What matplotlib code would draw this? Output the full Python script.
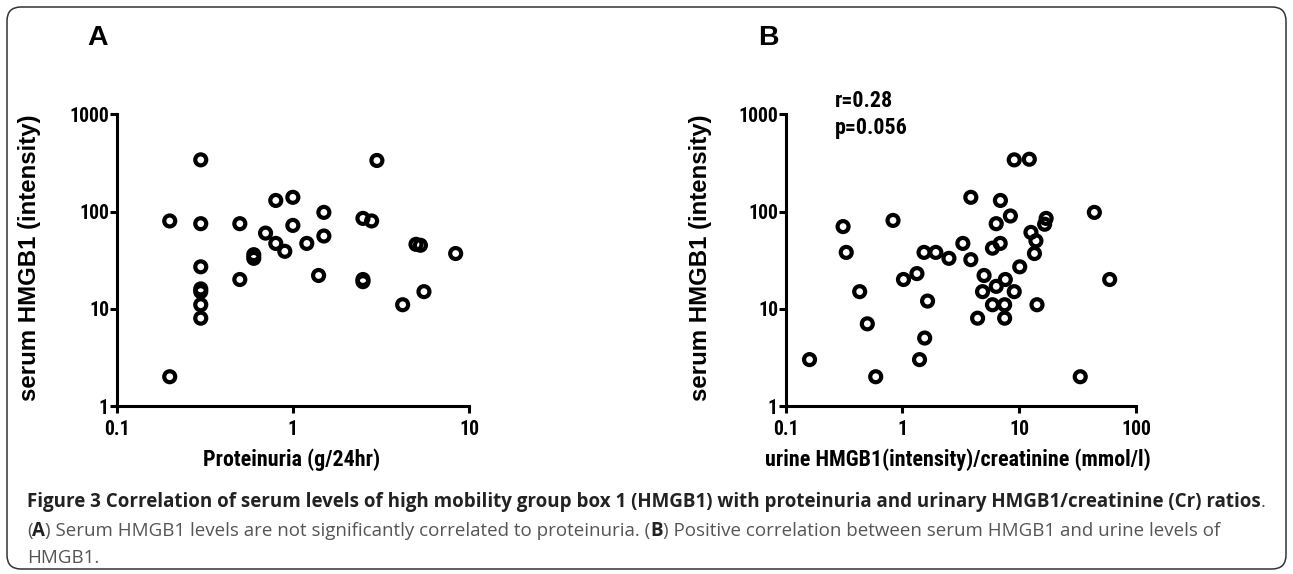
import matplotlib
matplotlib.use('Agg')
import matplotlib.pyplot as plt
from matplotlib import font_manager
from matplotlib.patches import FancyBboxPatch
from matplotlib.transforms import IdentityTransform
from matplotlib.ticker import FixedLocator, FixedFormatter, NullLocator

names = {f.name for f in font_manager.fontManager.ttflist}
cands = ['Liberation Sans Narrow', 'Arial Narrow', 'Roboto Condensed',
         'DejaVu Sans Condensed', 'Open Sans Condensed']
NARROW = next((c for c in cands if c in names), 'Liberation Sans')
SANS = 'Liberation Sans'

# ---------------- data ----------------
prot_x = [0.2, 0.2, 0.3, 0.3, 0.3, 0.3, 0.3, 0.3, 0.3, 0.5, 0.5, 0.6, 0.6, 0.7,
          0.8, 0.8, 0.9, 1.0, 1.0, 1.2, 1.4, 1.5, 1.5, 2.5, 2.5, 2.5, 2.8, 3.0,
          4.2, 5.0, 5.3, 5.55, 8.4]
prot_y = [80, 2, 340, 75, 27, 16, 15, 11, 8, 75, 20, 36, 33, 60,
          130, 47, 39, 140, 72, 47, 22, 98, 56, 85, 20, 19, 80, 335,
          11, 46, 45, 15, 37]

urine_x = [0.16, 0.31, 0.33, 0.43, 0.5, 0.59, 0.83, 1.02, 1.33, 1.4, 1.53, 1.55,
           1.64, 1.93, 2.5, 3.29, 3.85, 3.85, 4.4, 5.0, 4.85, 5.9, 5.9, 6.35,
           6.35, 6.87, 6.9, 7.5, 7.5, 7.6, 8.4, 9.06, 9.06, 10.1, 12.2, 12.6,
           13.9, 13.5, 14.2, 16.5, 17.0, 44, 59.5, 33.3]
urine_y = [3, 70, 38, 15, 7, 2, 81, 20, 23, 3, 38, 5,
           12, 38, 33, 47, 140, 32, 8, 22, 15, 11, 42, 75,
           17, 47, 130, 8, 11, 20, 90, 15, 340, 27, 345, 61,
           50, 37, 11, 74, 85, 98, 20, 2]

y_ticks = [1, 10, 100, 1000]
y_ticklabels = ['1', '10', '100', '1000']
xa_ticks = [0.1, 1, 10]
xa_ticklabels = ['0.1', '1', '10']
xb_ticks = [0.1, 1, 10, 100]
xb_ticklabels = ['0.1', '1', '10', '100']

W, H = 1293, 574
fig = plt.figure(figsize=(W / 100, H / 100), dpi=100)


def px_axes(x0, x1, y_top, y_bot):
    return fig.add_axes([x0 / W, 1 - y_bot / H, (x1 - x0) / W, (y_bot - y_top) / H])


def style(ax, xt, xtl, xlim):
    ax.set_xscale('log')
    ax.set_yscale('log')
    ax.set_xlim(*xlim)
    ax.set_ylim(1, 1000)
    for s in ('top', 'right'):
        ax.spines[s].set_visible(False)
    for s in ('left', 'bottom'):
        ax.spines[s].set_linewidth(2.2)
    ax.xaxis.set_major_locator(FixedLocator(xt))
    ax.xaxis.set_major_formatter(FixedFormatter(xtl))
    ax.yaxis.set_major_locator(FixedLocator(y_ticks))
    ax.yaxis.set_major_formatter(FixedFormatter(y_ticklabels))
    ax.xaxis.set_minor_locator(NullLocator())
    ax.yaxis.set_minor_locator(NullLocator())
    ax.tick_params(axis='both', which='major', direction='out', length=5, width=2.2)
    ax.tick_params(axis='x', pad=5)
    ax.tick_params(axis='y', pad=0.5)
    for lab in ax.get_xticklabels() + ax.get_yticklabels():
        lab.set_fontfamily(NARROW)
        lab.set_fontweight('bold')
        lab.set_fontsize(14.2)
    ax.patch.set_alpha(0)


marker_kw = dict(marker='o', s=7.9 ** 2, facecolors='none', edgecolors='black',
                 linewidths=3.0, clip_on=False, zorder=3)

# Panel A
axA = px_axes(116.7, 469, 114.3, 406)
style(axA, xa_ticks, xa_ticklabels, (0.1, 10))
axA.scatter(prot_x, prot_y, **marker_kw)

# Panel B
axB = px_axes(785.7, 1136, 114.3, 406)
style(axB, xb_ticks, xb_ticklabels, (0.1, 100))
axB.scatter(urine_x, urine_y, **marker_kw)


def ftext(x, y, s, **kw):
    return fig.text(x / W, 1 - y / H, s, **kw)


# axis labels
for xc in (30, 700):
    ftext(xc, 258, 'serum HMGB1 (intensity)', rotation=90, ha='center', va='center',
          family=SANS, weight='bold', fontsize=17.3)
ftext(292, 460, 'Proteinuria (g/24hr)', ha='center', va='center',
      family=NARROW, weight='bold', fontsize=15.8)
ftext(958, 460, 'urine HMGB1(intensity)/creatinine (mmol/l)', ha='center', va='center',
      family=NARROW, weight='bold', fontsize=15.8)

# panel letters
ftext(98, 38, 'A', ha='center', va='center', family=SANS, weight='bold', fontsize=20.5)
ftext(768, 38, 'B', ha='center', va='center', family=SANS, weight='bold', fontsize=20.5)

# stats annotation
ftext(835, 101, 'r=0.28', ha='left', va='center', family=NARROW, weight='bold', fontsize=15.8)
ftext(835, 128, 'p=0.056', ha='left', va='center', family=NARROW, weight='bold', fontsize=15.8)

# border
fig.patches.append(FancyBboxPatch((7, 5), W - 14, H - 12,
                                  boxstyle='round,pad=0,rounding_size=14',
                                  transform=IdentityTransform(), fill=False,
                                  edgecolor='#333333', linewidth=1.1))

# caption
renderer = fig.canvas.get_renderer()
CAPFONT = 'Open Sans'
line1 = ('Figure 3 Correlation of serum levels of high mobility group box 1 (HMGB1) '
         'with proteinuria and urinary HMGB1/creatinine (Cr) ratios')
probe = fig.text(0, 0, line1, family=CAPFONT, weight='bold', fontsize=10)
wprobe = probe.get_window_extent(renderer).width
probe.remove()
CAP = 10 * (1236 / wprobe)


def runs(x, y, parts):
    for s, bold, color in parts:
        t = ftext(x, y, s, ha='left', va='baseline', family=CAPFONT,
                  weight='bold' if bold else 'normal', color=color, fontsize=CAP)
        bb = t.get_window_extent(renderer)
        x = bb.x1


REG = '#555555'
runs(27, 507, [(line1, True, '#222222'), ('.', False, REG)])
runs(27, 536, [('(', False, REG), ('A', True, '#222222'),
               (') Serum HMGB1 levels are not significantly correlated to proteinuria. (', False, REG),
               ('B', True, '#222222'),
               (') Positive correlation between serum HMGB1 and urine levels of', False, REG)])
runs(27, 563, [('HMGB1.', False, REG)])

fig.savefig('out.png', dpi=100)
